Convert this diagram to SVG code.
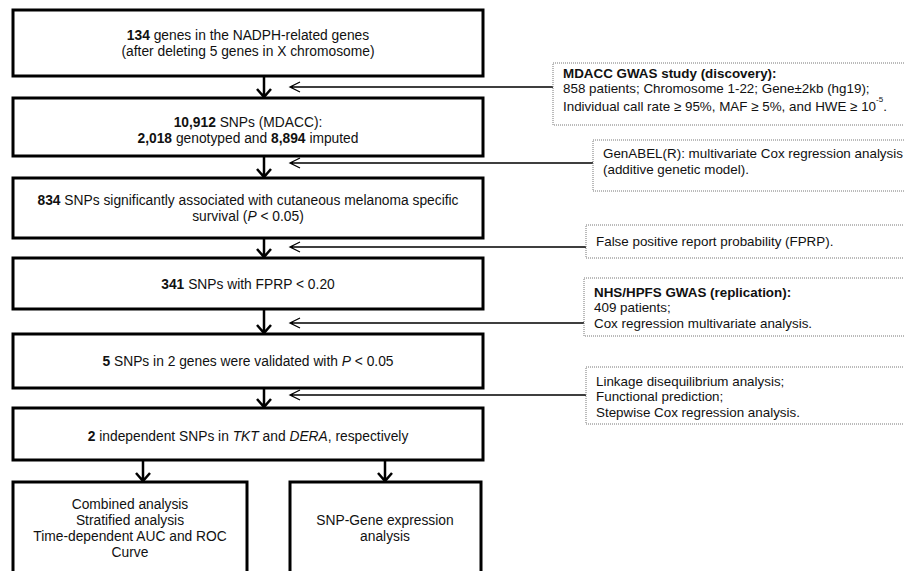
<svg xmlns="http://www.w3.org/2000/svg" width="904" height="571" viewBox="0 0 904 571">
<style>
text{font-family:"Liberation Sans",Arial,sans-serif;font-size:13.8px;fill:#111}
.s text{font-size:13.4px}
.c{text-anchor:middle}
.b{font-weight:bold}
.i{font-style:italic}
.main{fill:#fff;stroke:#000;stroke-width:3}
.side{fill:#fff;stroke:#777;stroke-width:1;stroke-dasharray:1 1}
.down{fill:none;stroke:#000;stroke-width:2.5}
.left{fill:none;stroke:#000;stroke-width:1.3}
</style>
<rect width="904" height="571" fill="#fff"/>
<g id="connectors">
<path class="down" d="M264 77V97M257 89L264 97L271 89"/>
<path class="down" d="M264 157V177M257 169L264 177L271 169"/>
<path class="down" d="M264 238V257M257 249L264 257L271 249"/>
<path class="down" d="M264 310V333M257 325L264 333L271 325"/>
<path class="down" d="M264 388V407M257 399L264 407L271 399"/>
<path class="down" d="M143 460V481M136 473L143 481L150 473"/>
<path class="down" d="M385 460V481M378 473L385 481L392 473"/>
<path class="left" d="M290 87H553M300 82L290 87L300 92"/>
<path class="left" d="M290 163H593M300 158L290 163L300 168"/>
<path class="left" d="M290 247H586M300 242L290 247L300 252"/>
<path class="left" d="M290 323H584M300 318L290 323L300 328"/>
<path class="left" d="M290 395H587M300 390L290 395L300 400"/>
</g>
<g id="n1"><rect class="main" x="13" y="10" width="470" height="66"/>
<text class="c" x="248" y="40"><tspan class="b">134</tspan> genes in the NADPH-related genes</text>
<text class="c" x="248" y="56">(after deleting 5 genes in X chromosome)</text></g>
<g id="n2"><rect class="main" x="13" y="98" width="470" height="58"/>
<text class="c" x="248" y="127"><tspan class="b">10,912</tspan> SNPs (MDACC):</text>
<text class="c" x="248" y="143"><tspan class="b">2,018</tspan> genotyped and <tspan class="b">8,894</tspan> imputed</text></g>
<g id="n3"><rect class="main" x="13" y="178" width="470" height="60"/>
<text class="c" x="248" y="205"><tspan class="b">834</tspan> SNPs significantly associated with cutaneous melanoma specific</text>
<text class="c" x="248" y="221">survival (<tspan class="i">P</tspan> &lt; 0.05)</text></g>
<g id="n4"><rect class="main" x="13" y="258" width="470" height="51"/>
<text class="c" x="248" y="289"><tspan class="b">341</tspan> SNPs with FPRP &lt; 0.20</text></g>
<g id="n5"><rect class="main" x="13" y="334" width="470" height="54"/>
<text class="c" x="248" y="366"><tspan class="b">5</tspan> SNPs in 2 genes were validated with <tspan class="i">P</tspan> &lt; 0.05</text></g>
<g id="n6"><rect class="main" x="13" y="408" width="470" height="52"/>
<text class="c" x="248" y="441"><tspan class="b">2</tspan> independent SNPs in <tspan class="i">TKT</tspan> and <tspan class="i">DERA</tspan>, respectively</text></g>
<g id="n7"><rect class="main" x="13" y="482" width="234" height="100"/>
<text class="c" x="130" y="509">Combined analysis</text>
<text class="c" x="130" y="525">Stratified analysis</text>
<text class="c" x="130" y="541">Time-dependent AUC and ROC</text>
<text class="c" x="130" y="557">Curve</text></g>
<g id="n8"><rect class="main" x="290" y="482" width="191" height="100"/>
<text class="c" x="385" y="525">SNP-Gene expression</text>
<text class="c" x="385" y="541">analysis</text></g>
<g class="s">
<g id="s1"><rect class="side" x="553" y="63" width="370" height="62"/>
<text class="b" x="563" y="78">MDACC GWAS study (discovery):</text>
<text x="563" y="93">858 patients; Chromosome 1-22; Gene±2kb (hg19);</text>
<text x="563" y="111">Individual call rate ≥ 95%, MAF ≥ 5%, and HWE ≥ 10<tspan dy="-9" font-size="8px">-5</tspan><tspan dy="9">.</tspan></text></g>
<g id="s2"><rect class="side" x="593" y="140" width="330" height="51"/>
<text x="603" y="158">GenABEL(R): multivariate Cox regression analysis</text>
<text x="603" y="174">(additive genetic model).</text></g>
<g id="s3"><rect class="side" x="586" y="225" width="330" height="33"/>
<text x="596" y="246">False positive report probability (FPRP).</text></g>
<g id="s4"><rect class="side" x="584" y="278" width="330" height="58"/>
<text class="b" x="594" y="297">NHS/HPFS GWAS (replication):</text>
<text x="594" y="312">409 patients;</text>
<text x="594" y="328">Cox regression multivariate analysis.</text></g>
<g id="s5"><rect class="side" x="586" y="367" width="330" height="57"/>
<text x="596" y="386">Linkage disequilibrium analysis;</text>
<text x="596" y="401">Functional prediction;</text>
<text x="596" y="417">Stepwise Cox regression analysis.</text></g>
</g>
</svg>
